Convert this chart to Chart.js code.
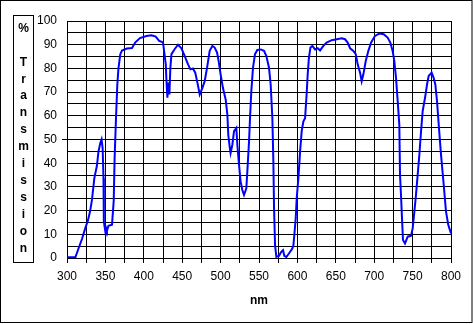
<!DOCTYPE html>
<html>
<head>
<meta charset="utf-8">
<script src="https://cdn.jsdelivr.net/npm/chart.js@4/dist/chart.umd.min.js"></script>
<style>
  html, body { margin: 0; padding: 0; background: #fff; }
  canvas { display: block; }
</style>
</head>
<body>
<canvas id="chart" width="473" height="324"></canvas>
<script>
const wavelengths = [
  300, 305, 311, 315, 319.5, 324, 327, 330, 332.5, 335.6, 339, 341, 343.4, 345, 346.4, 347.5, 348, 350, 351, 352, 354, 358.6,
  360.8, 362, 363.8, 365.5, 367, 369.4, 371.6, 378, 384.6, 389, 395,
  403.4, 410, 415.5, 420, 425, 426.4, 428.6, 429.4, 430.7, 432, 433.3, 434.6, 436, 440.3, 444.6, 449, 453.3, 457.6, 460.7,
  464, 467, 469.8, 472.8, 476.3, 479.3, 482.4, 485.8, 489.3, 492.3, 495.4,
  497.5, 500, 503, 506.6, 508.8, 510, 511.8, 513, 515.3, 517.5, 520.5, 521.8, 524, 526, 528.3, 530.5, 533.5, 535.3, 537,
  538.3, 540, 542.2, 544.8, 547.8, 552.2, 556.5, 559.6, 563, 565.2, 567.4, 568.7, 569.6, 570.9, 572.6, 576, 579, 581.3,
  583, 585.6, 589, 593.4,
  594.8, 596, 597.8, 599.1, 601.3, 603.5, 605.6, 607.8, 610, 612, 613.4, 615, 617, 619.5, 623, 626.5, 629.5, 633.8, 638,
  644.7, 651.2, 657.7, 662, 665.5, 668.6, 672.9, 676, 678.5, 681.6, 683.7, 685.9, 689, 692.4, 695.9,
  701, 706.7, 712.3, 717.5, 721, 724, 726.2, 728.4, 730.6, 732.7, 733.6, 734.9, 736.2, 737.5, 740.1, 743.6, 748, 750.1,
  752.3, 754.4, 756.6, 758.8, 761, 763.1, 766.2, 768.8, 770.9, 774.8, 777.4, 779.6, 781.8, 784, 787, 790.5, 793.5, 796.5, 800
];
const transmission = [
  0.3, 0.3, 0.4, 4, 8, 12.8, 15.5, 19.6, 24.5, 33.7, 39, 45, 48.5, 50, 46.4, 33.7, 15.3, 11, 12.5, 11.5, 13.6, 14,
  24, 42, 59, 73, 80, 86, 87.5, 88.4, 88.6, 91, 92.8,
  93.7, 94, 93.4, 91.6, 91, 87.4, 81.7, 75.4, 67.6, 74, 69, 80.3, 86, 88.2, 90, 88.5, 85.2, 81.7, 79.6,
  80, 78.2, 74, 69, 71.8, 74.6, 80.3, 87.4, 89.5, 88.8, 86.7,
  83, 77.5, 71.8, 66.9, 60.5, 52, 47, 44.3, 47.8, 53.5, 54.9, 47.8, 39.3, 32.3, 28.7, 26.6, 29.4, 39.3, 49,
  59, 70.4, 80.3, 86, 87.8, 88, 87.4, 85.2, 80.3, 73.2, 59, 40.7, 21, 5.4, 0.5, 0.9, 2.6, 3.3,
  0.9, 0.4, 1.9, 4,
  5.4, 9.7, 16.7, 25.2, 33.7, 45, 53.5, 57.7, 59, 69, 77.5, 84.5, 88.8, 89.5, 88, 88.5, 87.6, 89.5, 90.9,
  91.9, 92.3, 92.7, 92.3, 90.9, 88.5, 87.4, 86, 81.7, 78.2, 74.6, 77.5, 83.1, 87.4, 90.9,
  93.7, 94.7, 94.4, 93, 90.9, 87.4, 83.1, 76, 66.2, 56.3, 35.1, 26.6, 16.7, 7.6, 6.1, 9, 9.4, 12.5,
  19.6, 26.6, 35.1, 43.6, 53.5, 62, 67.6, 73.2, 76.8, 78.2, 76, 73.2, 66.2, 56.3, 43.6, 30.9, 19.6, 13.9, 10.4
];
const xTitle = "nm";
const yTitleLines = ["%", "", "T", "r", "a", "n", "s", "m", "i", "s", "s", "i", "o", "n"];

const FONT = "Arial, 'Liberation Sans', sans-serif";

// frame, vertical y title in its box, x title
const decor = {
  id: "decor",
  afterDraw(chart) {
    const ctx = chart.ctx;
    ctx.save();
    ctx.strokeStyle = "#000";
    ctx.lineWidth = 1;
    ctx.strokeRect(0.5, 0.5, 471.5, 322);
    ctx.strokeRect(13.5, 15.5, 20, 247);

    ctx.fillStyle = "#000";
    ctx.font = "bold 12px " + FONT;
    ctx.textAlign = "center";
    ctx.textBaseline = "middle";
    yTitleLines.forEach((ch, i) => {
      if (ch) ctx.fillText(ch, 23.5, 28.5 + i * 16.9);
    });

    const area = chart.chartArea;
    ctx.fillText(xTitle, (area.left + area.right) / 2, 301);
    ctx.restore();
  }
};

new Chart(document.getElementById("chart"), {
  type: "line",
  data: {
    datasets: [{
      data: wavelengths.map((w, i) => ({ x: w, y: transmission[i] })),
      borderColor: "#0000ff",
      borderWidth: 2,
      pointRadius: 0,
      tension: 0,
      fill: false
    }]
  },
  options: {
    responsive: false,
    animation: false,
    events: [],
    layout: { padding: { left: 0, right: 22, top: 21, bottom: 0 } },
    plugins: { legend: { display: false }, tooltip: { enabled: false } },
    scales: {
      x: {
        type: "linear",
        min: 300,
        max: 800,
        afterFit: (s) => { s.height = 66; },
        border: { color: "#000", width: 1 },
        grid: { color: "#000", lineWidth: 1, tickLength: 5, tickColor: "#000" },
        ticks: {
          stepSize: 25,
          autoSkip: false,
          maxRotation: 0,
          padding: 6,
          color: "#000",
          font: { family: FONT, size: 12 },
          callback: (v) => (v % 50 === 0 ? String(v) : "")
        }
      },
      y: {
        min: 0,
        max: 100,
        afterFit: (s) => { s.width = 67; },
        border: { color: "#000", width: 1 },
        grid: {
          color: "#000",
          lineWidth: 1,
          tickLength: 5,
          tickColor: (c) => (c.tick && c.tick.value === 50 ? "#000" : "rgba(0,0,0,0)")
        },
        ticks: {
          stepSize: 5,
          autoSkip: false,
          padding: 5,
          color: "#000",
          font: { family: FONT, size: 12 },
          callback: (v) => (v % 10 === 0 ? String(v) : "")
        }
      }
    }
  },
  plugins: [decor]
});
</script>
</body>
</html>
